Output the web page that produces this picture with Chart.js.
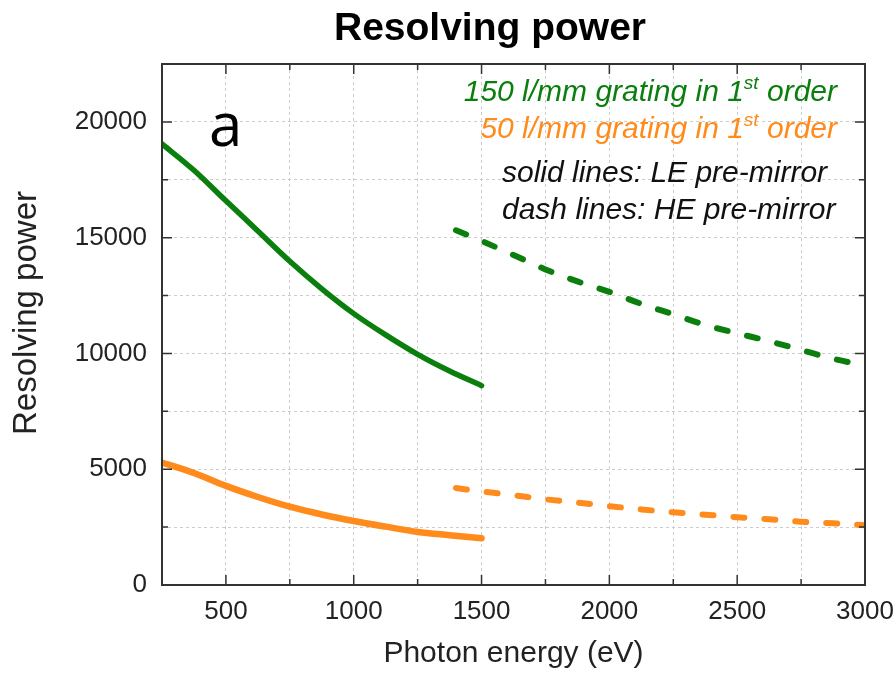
<!DOCTYPE html>
<html>
<head>
<meta charset="utf-8">
<script src="https://cdn.jsdelivr.net/npm/chart.js@4.4.1/dist/chart.umd.min.js"></script>
<style>
  html, body { margin: 0; padding: 0; background: #fff; }
  #wrap { width: 894px; height: 676px; }
</style>
</head>
<body>
<div id="wrap"><canvas id="rpChart" width="894" height="676"></canvas></div>
<script>
// photon energy (eV) and resolving power
const energyLE = [250, 375, 500, 625, 750, 875, 1000, 1125, 1250, 1375, 1500];
const rp150LE = [19050, 17910, 16590, 15290, 13980, 12790, 11720, 10800, 9960, 9240, 8610];
const rp50LE = [5290, 4835, 4280, 3800, 3380, 3045, 2765, 2520, 2290, 2150, 2020];

const energyHE = [1400, 1500, 1625, 1750, 1875, 2000, 2125, 2250, 2375, 2500, 2625, 2750, 2875, 3000];
const rp150HE = [15320, 14860, 14250, 13630, 13110, 12660, 12140, 11690, 11230, 10870, 10530, 10150, 9770, 9480];
const rp50HE = [4190, 4040, 3880, 3700, 3560, 3405, 3265, 3140, 3035, 2930, 2840, 2735, 2665, 2580];

const xLabelStep = 500;   // labelled x ticks
const yLabelStep = 5000;  // labelled y ticks

const GREEN = "#0b7f0d";
const ORANGE = "#ff8b1c";
const FONT = "'Liberation Sans', Arial, sans-serif";

const toPoints = (xs, ys) => xs.map((x, i) => ({ x, y: ys[i] }));

function lineSet(label, xs, ys, color, width, dashed) {
  return {
    label,
    data: toPoints(xs, ys),
    borderColor: color,
    backgroundColor: color,
    borderWidth: width,
    borderDash: dashed ? [11, 20] : [],
    borderCapStyle: "round",
    cubicInterpolationMode: "monotone",
    pointRadius: 0,
    fill: false
  };
}

// superscript-aware text, right aligned at x
function drawSup(ctx, parts, rightX, baseY, size, color) {
  const big = `italic ${size}px ${FONT}`;
  const small = `italic ${Math.round(size * 0.62)}px ${FONT}`;
  let total = 0;
  parts.forEach(p => { ctx.font = p.sup ? small : big; total += ctx.measureText(p.t).width; });
  let x = rightX - total;
  ctx.fillStyle = color;
  ctx.textAlign = "left";
  ctx.textBaseline = "alphabetic";
  parts.forEach(p => {
    ctx.font = p.sup ? small : big;
    ctx.fillText(p.t, x, p.sup ? baseY - size * 0.4 : baseY);
    x += ctx.measureText(p.t).width;
  });
}

const framePlugin = {
  id: "frame",
  afterDraw(chart) {
    const { ctx, chartArea: a, scales } = chart;
    ctx.save();
    // inward ticks on all four sides
    ctx.strokeStyle = "#333";
    ctx.lineWidth = 1.5;
    ctx.beginPath();
    scales.x.ticks.forEach(t => {
      const px = scales.x.getPixelForValue(t.value);
      const len = t.value % xLabelStep === 0 ? 10 : 6;
      ctx.moveTo(px, a.bottom); ctx.lineTo(px, a.bottom - len);
      ctx.moveTo(px, a.top); ctx.lineTo(px, a.top + len);
    });
    scales.y.ticks.forEach(t => {
      const py = scales.y.getPixelForValue(t.value);
      const len = t.value % yLabelStep === 0 ? 10 : 6;
      ctx.moveTo(a.left, py); ctx.lineTo(a.left + len, py);
      ctx.moveTo(a.right, py); ctx.lineTo(a.right - len, py);
    });
    ctx.stroke();
    // box
    ctx.lineWidth = 2;
    ctx.strokeRect(a.left, a.top, a.right - a.left, a.bottom - a.top);

    // title
    ctx.fillStyle = "#000";
    ctx.font = `bold 39px ${FONT}`;
    ctx.textAlign = "center";
    ctx.textBaseline = "alphabetic";
    ctx.fillText("Resolving power", 490, 40);

    // y axis title
    ctx.save();
    ctx.translate(27, 313);
    ctx.rotate(-Math.PI / 2);
    ctx.fillStyle = "#222";
    ctx.font = `33px ${FONT}`;
    ctx.textAlign = "center";
    ctx.textBaseline = "middle";
    ctx.fillText("Resolving power", 0, 0);
    ctx.restore();

    // panel letter
    ctx.fillStyle = "#000";
    ctx.font = "60px 'Open Sans', sans-serif";
    ctx.textAlign = "left";
    ctx.fillText("a", 209, 146);

    // annotations
    drawSup(ctx, [{ t: "150 l/mm grating in 1" }, { t: "st", sup: true }, { t: " order" }], 837, 101, 30, GREEN);
    drawSup(ctx, [{ t: "50 l/mm grating in 1" }, { t: "st", sup: true }, { t: " order" }], 837, 138, 30, ORANGE);
    ctx.fillStyle = "#111";
    ctx.font = `italic 30px ${FONT}`;
    ctx.textAlign = "left";
    ctx.fillText("solid lines: LE pre-mirror", 502, 182);
    ctx.fillText("dash lines: HE pre-mirror", 502, 219);
    ctx.restore();
  }
};

new Chart(document.getElementById("rpChart").getContext("2d"), {
  type: "line",
  data: {
    datasets: [
      lineSet("150 l/mm LE", energyLE, rp150LE, GREEN, 5.5, false),
      lineSet("50 l/mm LE", energyLE, rp50LE, ORANGE, 6.5, false),
      lineSet("150 l/mm HE", energyHE, rp150HE, GREEN, 6, true),
      lineSet("50 l/mm HE", energyHE, rp50HE, ORANGE, 6, true)
    ]
  },
  options: {
    responsive: false,
    animation: false,
    devicePixelRatio: 1,
    layout: { padding: { left: 0, right: 29, top: 64, bottom: 0 } },
    plugins: {
      legend: { display: false },
      tooltip: { enabled: false },
      title: { display: false }
    },
    scales: {
      x: {
        type: "linear",
        min: 250,
        max: 3000,
        grid: { color: "#cccccc", lineWidth: 1, drawTicks: false },
        border: { display: false, dash: [3, 3] },
        ticks: {
          stepSize: 250,
          autoSkip: false,
          maxRotation: 0,
          padding: 11,
          color: "#222",
          font: { family: FONT, size: 26 },
          callback: v => (v % xLabelStep === 0 ? v : "")
        },
        title: {
          display: true,
          text: "Photon energy (eV)",
          color: "#222",
          font: { family: FONT, size: 30 },
          padding: { top: 0, bottom: 4 }
        },
        afterFit(scale) {
          scale.height = 91;
          scale.paddingLeft = 0;
          scale.paddingRight = 0;
        }
      },
      y: {
        min: 0,
        max: 22500,
        grid: { color: "#cccccc", lineWidth: 1, drawTicks: false },
        border: { display: false, dash: [3, 3] },
        ticks: {
          stepSize: 2500,
          autoSkip: false,
          padding: 15,
          color: "#222",
          font: { family: FONT, size: 26 },
          callback: v => (v % yLabelStep === 0 ? v : "")
        },
        title: { display: false },
        afterFit(scale) {
          scale.width = 162;
          scale.paddingTop = 0;
          scale.paddingBottom = 0;
        }
      }
    }
  },
  plugins: [framePlugin]
});
</script>
</body>
</html>
